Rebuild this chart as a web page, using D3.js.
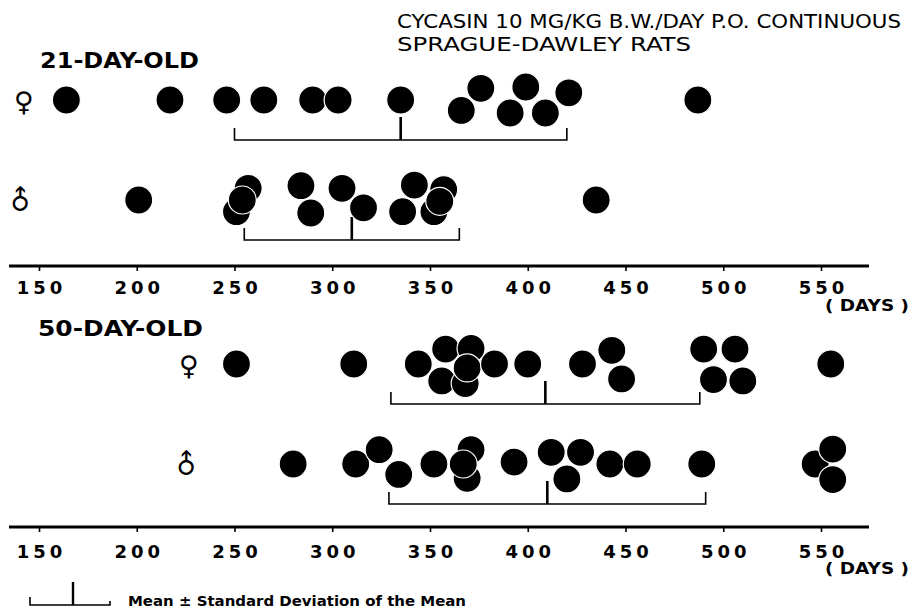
<!DOCTYPE html>
<html><head><meta charset="utf-8">
<script src="https://cdn.jsdelivr.net/npm/d3@7"></script>
<style>body{margin:0;background:#fff}svg{display:block}</style>
</head><body><svg id="c" width="913" height="612"></svg>
<script>
// ---------- data ----------
const titleLines = ["CYCASIN 10 MG/KG B.W./DAY P.O. CONTINUOUS", "SPRAGUE-DAWLEY RATS"];
const panelLabels = ["21-DAY-OLD", "50-DAY-OLD"];
const sexSymbols = ["\u2640", "\u2642"];
const tickValues = [150, 200, 250, 300, 350, 400, 450, 500, 550];
const unitLabel = "( DAYS )";
const legendText = "Mean \u00B1 Standard Deviation of the Mean";

// days to tumour (each dot one animal); tier = vertical stacking level inside a row
const female21Days = [164, 217, 246, 265, 290, 303, 335, 366, 376, 391, 399, 409, 421, 487];
const female21Tier = [0, 0, 0, 0, 0, 0, 0, 0.8, -0.9, 1, -1, 1, -0.55, 0];
const male21Days = [201, 257, 251, 254, 284, 289, 305, 316, 336, 342, 357, 352, 355, 435];
const male21Tier = [0, -0.9, 0.9, 0, -1.1, 1, -0.9, 0.6, 0.9, -1.15, -0.8, 0.9, 0.1, 0];
const female50Days = [251, 311, 344, 358, 371, 356, 368, 369, 383, 400, 428, 443, 448, 490, 506, 495, 510, 555];
const female50Tier = [0, 0, 0, -1.15, -1.2, 1.3, 1.5, 0.3, 0, 0, 0, -1.05, 1.15, -1.15, -1.15, 1.2, 1.3, 0];
const male50Days = [280, 312, 324, 334, 352, 371, 369, 367, 393, 412, 427, 420, 442, 456, 489, 547, 556, 556];
const male50Tier = [0, 0, -1.1, 0.8, 0, -1.1, 1.1, 0, -0.15, -0.9, -0.9, 1.15, 0, 0, 0, 0, -1.15, 1.2];

const groupMeans = [335, 310, 409, 410];
const groupSDs = [85, 55, 79, 81];

// ---------- layout ----------
const svg = d3.select("#c");
const x = d3.scaleLinear().domain([150, 550]).range([39, 821]);
const R = 14, TIER = 13;
const groups = [
  {days: female21Days, tier: female21Tier, row: 100, sym: 0, symX: 24},
  {days: male21Days, tier: male21Tier, row: 200, sym: 1, symX: 20},
  {days: female50Days, tier: female50Tier, row: 364, sym: 0, symX: 189},
  {days: male50Days, tier: male50Tier, row: 464, sym: 1, symX: 186}
];
groups.forEach((g, i) => { g.mean = groupMeans[i]; g.sd = groupSDs[i]; });

const FONT = "'DejaVu Sans', sans-serif";
const COND = "'DejaVu Sans Condensed', 'Liberation Sans Narrow', sans-serif";

// title
svg.append("text").attr("x", 397).attr("y", 28).text(titleLines[0])
  .attr("font-family", COND).attr("font-size", 19).attr("textLength", 504).attr("lengthAdjust", "spacingAndGlyphs");
svg.append("text").attr("x", 397).attr("y", 51).text(titleLines[1])
  .attr("font-family", COND).attr("font-size", 19).attr("textLength", 294).attr("lengthAdjust", "spacingAndGlyphs");

// panel labels
[[panelLabels[0], 40, 68, 159], [panelLabels[1], 38, 336, 165]].forEach(([t, px, py, w]) => {
  svg.append("text").attr("x", px).attr("y", py).text(t)
    .attr("font-family", FONT).attr("font-weight", "bold").attr("font-size", 22)
    .attr("textLength", w).attr("lengthAdjust", "spacingAndGlyphs");
});

// groups
groups.forEach(g => {
  const gg = svg.append("g");
  // symbol
  const s = gg.append("text").text(sexSymbols[g.sym])
    .attr("font-family", FONT).attr("font-size", 27).attr("text-anchor", "middle")
    .attr("dominant-baseline", "central");
  if (g.sym === 0) s.attr("transform", `translate(${g.symX},${g.row + 1})`);
  else s.attr("transform", `translate(${g.symX},${g.row})rotate(-45)`);
  // bracket
  const by = g.row + 40;
  const xl = x(g.mean - g.sd), xr = x(g.mean + g.sd), xm = x(g.mean);
  gg.append("path").attr("d", `M${xl},${by - 12}V${by}H${xr}V${by - 12}`)
    .attr("fill", "none").attr("stroke", "#000").attr("stroke-width", 1.6);
  gg.append("line").attr("x1", xm).attr("x2", xm).attr("y1", by).attr("y2", by - 23)
    .attr("stroke", "#000").attr("stroke-width", 2.6);
  // dots
  gg.selectAll("circle").data(g.days.map((d, i) => ({d, t: g.tier[i]}))).join("circle")
    .attr("cx", p => x(p.d)).attr("cy", p => g.row + p.t * TIER).attr("r", R)
    .attr("fill", "#000").attr("stroke", "#fff").attr("stroke-width", 1.2);
});

// axes
function drawAxis(y, labelPad, daysY) {
  const ax = d3.axisBottom(x).tickValues(tickValues).tickSize(5).tickPadding(labelPad).tickFormat(d3.format("d"));
  const a = svg.append("g").attr("transform", `translate(0,${y})`).call(ax);
  a.select(".domain").remove();
  a.selectAll(".tick line").attr("stroke", "#000").attr("stroke-width", 1.6);
  a.selectAll(".tick text").attr("font-family", FONT).attr("font-weight", "bold")
    .attr("font-size", 18).attr("fill", "#000").attr("letter-spacing", 4).attr("dx", 2);
  a.append("line").attr("x1", x.range()[0] - 30).attr("x2", x.range()[1] + 48)
    .attr("y1", 0).attr("y2", 0).attr("stroke", "#000").attr("stroke-width", 3);
  svg.append("text").attr("x", 825).attr("y", daysY).text(unitLabel)
    .attr("font-family", FONT).attr("font-weight", "bold").attr("font-size", 15)
    .attr("textLength", 84).attr("lengthAdjust", "spacingAndGlyphs");
}
drawAxis(266, 10, 311);
drawAxis(527, 13, 574);

// legend
const ly = 605;
svg.append("path").attr("d", `M30,${ly - 8}V${ly}H110V${ly - 4}`)
  .attr("fill", "none").attr("stroke", "#000").attr("stroke-width", 1.6);
svg.append("line").attr("x1", 73).attr("x2", 73).attr("y1", ly).attr("y2", ly - 23)
  .attr("stroke", "#000").attr("stroke-width", 2.4);
svg.append("text").attr("x", 128).attr("y", ly + 1).text(legendText)
  .attr("font-family", FONT).attr("font-weight", "bold").attr("font-size", 14)
  .attr("textLength", 338).attr("lengthAdjust", "spacingAndGlyphs");
</script>
</body></html>
